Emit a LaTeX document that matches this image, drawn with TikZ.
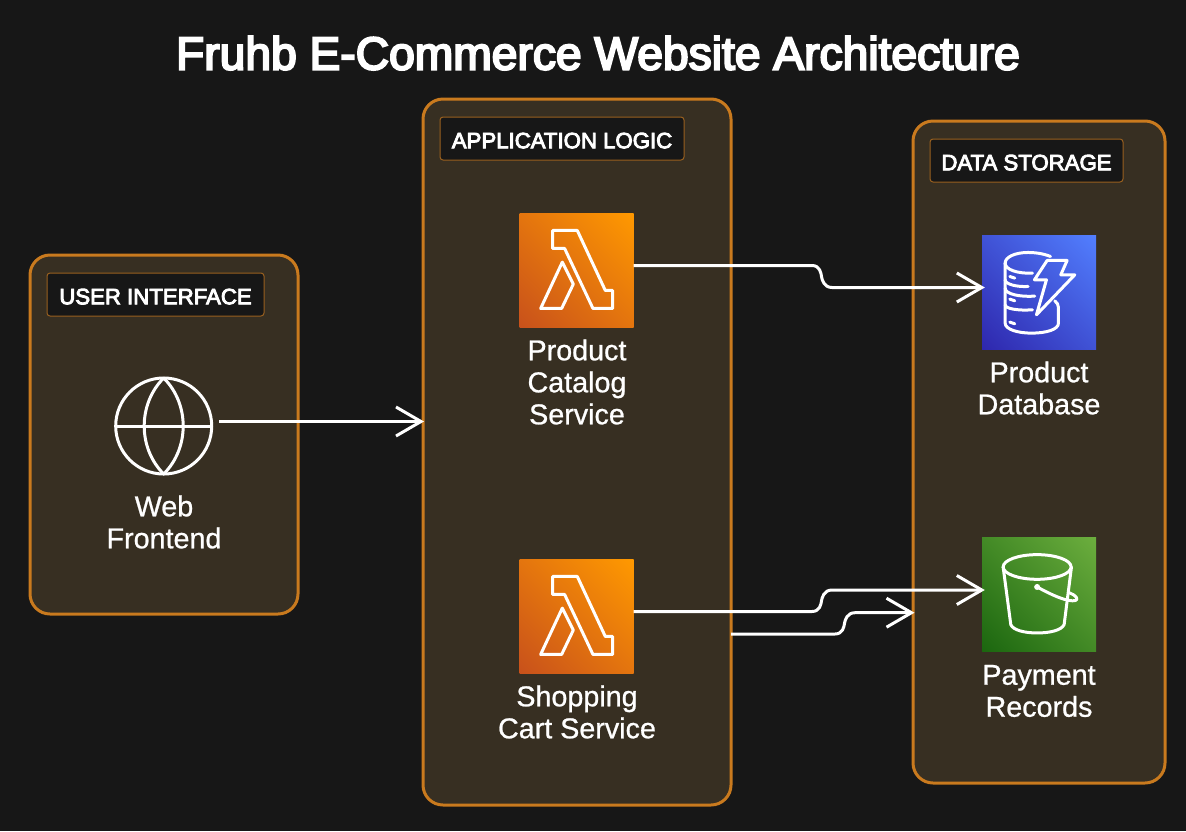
\documentclass[tikz,border=0pt]{standalone}
\usepackage{fontspec}
\setmainfont{Liberation Sans}
\newfontfamily\labelfont[FakeBold=0.8]{Liberation Sans}
\newfontfamily\titlefont[FakeBold=4.5]{Liberation Sans}
\newfontfamily\badgefont[FakeBold=4]{Liberation Sans}
\usetikzlibrary{arrows.meta,calc,shapes.geometric,shadings}
\definecolor{bgc}{HTML}{171717}
\definecolor{groupfill}{HTML}{372F22}
\definecolor{groupline}{HTML}{C97A1E}
\definecolor{badgeline}{HTML}{99601F}
\definecolor{lamA}{HTML}{C8511B}
\definecolor{lamB}{HTML}{E4750E}
\definecolor{lamC}{HTML}{FF9900}
\definecolor{dbA}{HTML}{2E27AD}
\definecolor{dbB}{HTML}{4053D6}
\definecolor{dbC}{HTML}{527FFF}
\definecolor{sthA}{HTML}{1B660F}
\definecolor{sthB}{HTML}{438A26}
\definecolor{sthC}{HTML}{6CAE3E}
\tikzset{
  group/.style={draw=groupline,fill=groupfill,line width=3pt,rounded corners=20pt,inner sep=0pt,anchor=center},
  badge/.style={draw=badgeline,fill=bgc,line width=1pt,rounded corners=3pt,inner sep=0pt,text=white,text height=19.5pt,text depth=0pt,font=\badgefont\fontsize{22.2}{26}\selectfont,anchor=center},
  svc/.style={inner sep=0pt,minimum width=114pt,minimum height=114pt,anchor=center},
  lamsq/.style={svc,lower left=lamA,lower right=lamB,upper left=lamB,upper right=lamC},
  dbsq/.style={svc,lower left=dbA,lower right=dbB,upper left=dbB,upper right=dbC},
  sthsq/.style={svc,lower left=sthA,lower right=sthB,upper left=sthB,upper right=sthC},
  label/.style={text=white,align=center,inner sep=0pt,font=\labelfont\fontsize{28.7}{32}\selectfont,anchor=center},
  ttl/.style={text=white,inner sep=0pt,font=\titlefont\fontsize{46.2}{54}\selectfont,anchor=center},
  iconline/.style={draw=white,line width=3pt,line join=round,line cap=round},
  conn/.style={draw=white,line width=3pt,-{Straight Barb[length=25pt,width=29pt,line width=3pt]}},
  lambdaicon/.pic={
    \begin{scope}[x=.3333pt,y=-.3333pt,shift={(-58,-40)}]
      \draw[iconline] (158,93)--(232,93)--(316,273)--(338,273)--(338,327)--(279,327)--(194,147)--(158,147)--cycle;
      \draw[iconline] (187,188)--(220,254)--(185,327)--(122,327)--cycle;
    \end{scope}},
  dbicon/.pic={
    \begin{scope}[x=.3333pt,y=-.3333pt,shift={(-66,-30)}]
      \draw[iconline] (272,95) .. controls (250,86) and (225,83) .. (205,83) .. controls (165,83) and (136,97) .. (136,115) .. controls (136,135) and (175,147) .. (218,145);
      \draw[iconline] (136,115) -- (136,295) .. controls (136,314) and (175,325) .. (215,325) .. controls (260,325) and (296,314) .. (296,295) -- (296,248) .. controls (296,240) and (292,234) .. (285,228);
      \draw[iconline] (136,165) .. controls (136,178) and (170,187) .. (205,185);
      \draw[iconline] (136,190) .. controls (136,208) and (180,217) .. (225,214);
      \draw[iconline] (136,240) .. controls (136,252) and (175,258) .. (218,255);
      \draw[iconline] (150,155)--(165,160);
      \draw[iconline] (150,223)--(165,228);
      \draw[iconline] (150,292)--(165,297);
      \draw[iconline] (262,107)--(322,107)--(303,150)--(345,150)--(230,270)--(260,165)--(224,165)--cycle;
    \end{scope}},
  bucketicon/.pic={
    \begin{scope}[x=.3333pt,y=-.3333pt,shift={(-66,-23)}]
      \draw[iconline] (232,112) ellipse [x radius=102,y radius=37];
      \draw[iconline] (130,112) -- (153,285) .. controls (160,302) and (195,310) .. (232,310) .. controls (270,310) and (305,302) .. (313,285) -- (335,112);
      \fill[white] (232,172) circle (9);
      \draw[iconline] (232,172) .. controls (265,190) and (295,205) .. (325,212) .. controls (345,216) and (355,212) .. (350,204) .. controls (346,197) and (335,192) .. (328,189);
    \end{scope}},
  globeicon/.pic={
    \draw[iconline] (0,0) circle (48);
    \draw[iconline] (-48,0) -- (48,0);
    \draw[iconline] (0,-48) .. controls (-26,-22) and (-26,22) .. (0,48) .. controls (26,22) and (26,-22) .. (0,-48);
  }
}
\newcommand{\sconn}[3]{%
  \draw[conn] let \p1=(#1),\p2=(#2),\n1={\y2-\y1} in
    (\p1) -- (#3,\y1)
    .. controls ($(#3,\y1)+(8pt,0pt)$) and ($(#3,\y1)+(9pt,.35*\n1)$) .. ($(#3,\y1)+(9.5pt,.5*\n1)$)
    .. controls ($(#3,\y1)+(10pt,.65*\n1)$) and ($(#3,\y1)+(12pt,\n1)$) .. ($(#3,\y1)+(20pt,\n1)$)
    -- (\p2);
}
\begin{document}
\begin{tikzpicture}[x=1pt,y=-1pt]
\useasboundingbox (0,0) rectangle (1186,831);
\fill[bgc] (0,0) rectangle (1186,831);

\node[ttl] (title) at (598,53) {Fruhb E-Commerce Website Architecture};

\node[group,minimum width=268pt,minimum height=359pt] (ui) at (164,434.5) {};
\node[group,minimum width=308pt,minimum height=706pt] (app) at (577,452) {};
\node[group,minimum width=252pt,minimum height=662pt] (data) at (1039,452) {};

\node[badge,minimum width=217pt,minimum height=43pt] (uib) at (155.5,294.5) {USER INTERFACE};
\node[badge,minimum width=244pt,minimum height=43pt] (appb) at (562,138.5) {APPLICATION LOGIC};
\node[badge,minimum width=193pt,minimum height=43pt] (datab) at (1026.5,160.5) {DATA STORAGE};

% web frontend
\node[circle,minimum size=96pt,inner sep=0pt] (web) at (163.7,426) {};
\pic at (web.center) {globeicon};
\node[label] (webl) at (164,522) {Web\\Frontend};

% lambdas
\node[lamsq] (lam1) at (576.5,270) {};
\pic at (lam1.north west) {lambdaicon};
\node[label] (lam1l) at (577,382) {Product\\Catalog\\Service};

\node[lamsq] (lam2) at (576.5,616) {};
\pic at (lam2.north west) {lambdaicon};
\node[label] (lam2l) at (577,712) {Shopping\\Cart Service};

% database
\node[dbsq] (db) at (1039,292) {};
\pic at (db.north west) {dbicon};
\node[label] (dbl) at (1039,388) {Product\\Database};

% bucket
\node[sthsq] (s3) at (1039,594.5) {};
\pic at (s3.north west) {bucketicon};
\node[label] (s3l) at (1039,691) {Payment\\Records};

% connectors
\draw[conn] ([xshift=7pt,yshift=4.5pt]web.east) -- ([xshift=2.5pt,yshift=30.5pt]app.west);
\sconn{[yshift=4.5pt]lam1.east}{[xshift=3pt,yshift=4.5pt]db.west}{812pt}
\sconn{[yshift=4.5pt]lam2.east}{[xshift=3pt,yshift=4.5pt]s3.west}{812pt}
\sconn{[xshift=-1.5pt,yshift=-182pt]app.east}{[xshift=3pt,yshift=-160.7pt]data.west}{835pt}
\end{tikzpicture}
\end{document}
